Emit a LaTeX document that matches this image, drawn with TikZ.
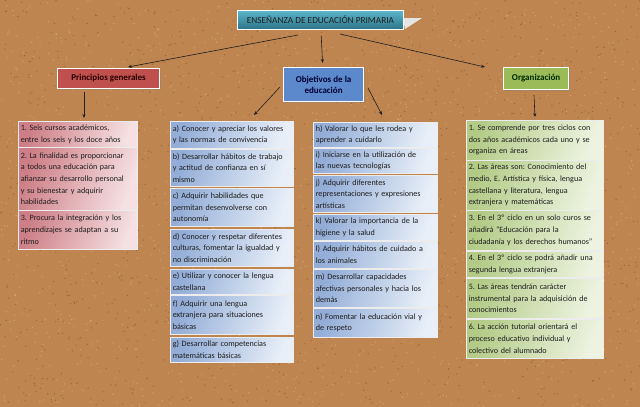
\documentclass[tikz,border=0pt]{standalone}
\usepackage{fontspec}
\setmainfont{Carlito}
\usetikzlibrary{arrows.meta,shadows,calc}
\definecolor{cork}{HTML}{BE8550}
\definecolor{corkD}{HTML}{7E4F26}
\definecolor{corkL}{HTML}{E4B985}
\definecolor{tealL}{HTML}{5DB6CB}
\definecolor{tealD}{HTML}{2B7386}
\definecolor{redH}{HTML}{C0504D}
\definecolor{blueH}{HTML}{5B89CC}
\definecolor{greenH}{HTML}{9BBB59}
\definecolor{pinkD}{HTML}{CD7E86}
\definecolor{pinkL}{HTML}{F5E0E2}
\definecolor{blueD}{HTML}{93ADD7}
\definecolor{blueL}{HTML}{E8EFF8}
\definecolor{greenD}{HTML}{B3CB87}
\definecolor{greenL}{HTML}{EDF3E0}
\definecolor{ink}{HTML}{1E1E1E}
\tikzset{
  lst/.style={rectangle, anchor=north west, draw=white!85!gray, line width=0.5pt,
    inner xsep=2.5pt, inner ysep=1pt, align=left, text=ink,
    font=\fontsize{8.1}{11.6}\selectfont,
    drop shadow={shadow xshift=1.2pt, shadow yshift=-1.2pt, opacity=0.45}},
  plst/.style={lst, text width=114pt, minimum width=119pt, left color=pinkD, right color=pinkL, shading angle=70},
  blst/.style={lst, text width=118pt, minimum width=123pt, left color=blueD, right color=blueL, shading angle=70},
  b2lst/.style={lst, text width=119pt, minimum width=124pt, left color=blueD, right color=blueL, shading angle=70},
  glst/.style={lst, text width=132pt, minimum width=137pt, left color=greenD, right color=greenL, shading angle=70},
  hdr/.style={rectangle, anchor=north west, draw=white, line width=1.2pt, align=center,
    font=\fontsize{9}{11}\selectfont\bfseries, inner sep=0pt,
    drop shadow={shadow xshift=1pt, shadow yshift=-1pt, opacity=0.4}},
  arr/.style={draw=ink, line width=0.6pt, -{Stealth[length=4pt,width=3.2pt]}},
}
\frenchspacing
\begin{document}
\begin{tikzpicture}[x=1pt,y=-1pt]
\useasboundingbox (0,0) rectangle (640,407);
\fill[cork] (0,0) rectangle (640,407);
\pgfmathsetseed{17}
\foreach \i in {1,...,1400}{
  \fill[corkD, opacity=0.55] (rand*320+320, rand*203.5+203.5) circle (0.7);
  \fill[corkL, opacity=0.55] (rand*320+320, rand*203.5+203.5) circle (0.7);
}
% title
\fill[white!80!gray] (403,18) -- (422,18) -- (405,29) -- cycle;
\node[hdr, minimum width=166pt, minimum height=19pt, top color=tealL, bottom color=tealD,
  font=\fontsize{9.3}{11}\selectfont, text=ink, line width=0.9pt] (title) at (237,10)
  {ENSEÑANZA DE EDUCACIÓN PRIMARIA};
% headers
\node[hdr, fill=redH, minimum width=102pt, minimum height=20pt, text=black!85!red] (pg) at (57,68) {Principios generales};
\node[hdr, fill=blueH, minimum width=80pt, minimum height=34pt, text=blue!20!black] (obj) at (283,67) {Objetivos de la\\ educación};
\node[hdr, fill=greenH, minimum width=65pt, minimum height=22pt, text=black!85!green] (org) at (503,67) {Organización};
% Principios list
\node[plst, minimum height=26pt] (p1) at (18,121) {1. Seis cursos académicos,\\ entre los seis y los doce años};
\node[plst, minimum height=63pt] (p2) at (18,147) {2. La finalidad es proporcionar\\ a todos una educación para\\ afianzar su desarrollo personal\\ y su bienestar y adquirir\\ habilidades};
\node[plst, minimum height=39pt] (p3) at (18,210) {3. Procura la integración y los\\ aprendizajes se adaptan a su\\ ritmo};
% Objetivos left
\node[blst, minimum height=27pt] (oa) at (170,121) {a) Conocer y apreciar los valores\\ y las normas de convivencia};
\node[blst, minimum height=37pt] (ob) at (170,149) {b) Desarrollar hábitos de trabajo\\ y actitud de confianza en sí\\ mismo};
\node[blst, minimum height=38pt] (oc) at (170,188) {c) Adquirir habilidades que\\ permitan desenvolverse con\\ autonomía};
\node[blst, minimum height=37pt] (od) at (170,229) {d) Conocer y respetar diferentes\\ culturas, fomentar la igualdad y\\ no discriminación};
\node[blst, minimum height=25pt] (oe) at (170,269) {e) Utilizar y conocer la lengua\\ castellana};
\node[blst, minimum height=39pt] (of) at (170,295) {f) Adquirir una lengua\\ extranjera para situaciones\\ básicas};
\node[blst, minimum height=25pt] (og) at (170,337) {g) Desarrollar competencias\\ matemáticas básicas};
% Objetivos right
\node[b2lst, minimum height=25pt] (oh) at (313,122) {h) Valorar lo que les rodea y\\ aprender a cuidarlo};
\node[b2lst, minimum height=25pt] (oi) at (313,148) {i) Iniciarse en la utilización de\\ las nuevas tecnologías};
\node[b2lst, minimum height=37pt] (oj) at (313,175) {j) Adquirir diferentes\\ representaciones y expresiones\\ artísticas};
\node[b2lst, minimum height=26pt] (ok) at (313,214) {k) Valorar la importancia de la\\ higiene y la salud};
\node[b2lst, minimum height=27pt] (ol) at (313,241) {l) Adquirir hábitos de cuidado a\\ los animales};
\node[b2lst, minimum height=38pt] (om) at (313,269) {m) Desarrollar capacidades\\ afectivas personales y hacia los\\ demás};
\node[b2lst, minimum height=29pt] (on) at (313,308) {n) Fomentar la educación vial y\\ de respeto};
% Organizacion list
\node[glst, minimum height=40pt] (g1) at (466,120) {1. Se comprende por tres ciclos con\\ dos años académicos cada uno y se\\ organiza en áreas};
\node[glst, minimum height=50pt] (g2) at (466,160) {2. Las áreas son: Conocimiento del\\ medio, E. Artística y física, lengua\\ castellana y literatura, lengua\\ extranjera y matemáticas};
\node[glst, minimum height=40pt] (g3) at (466,210) {3. En el 3º ciclo en un solo curos se\\ añadirá “Educación para la\\ ciudadanía y los derechos humanos”};
\node[glst, minimum height=26pt] (g4) at (466,251) {4. En el 3º ciclo se podrá añadir una\\ segunda lengua extranjera};
\node[glst, minimum height=40pt] (g5) at (466,278) {5. Las áreas tendrán carácter\\ instrumental para la adquisición de\\ conocimientos};
\node[glst, minimum height=39pt] (g6) at (466,319) {6. La acción tutorial orientará el\\ proceso educativo individual y\\ colectivo del alumnado};
% connector end points
\coordinate (tl) at (298,35);
\coordinate (tr) at (340,34);
\coordinate (pgin) at (128,67);
\coordinate (orgin) at (485,67);
\coordinate (pgout) at (84,92);
\coordinate (p1in) at (84,118);
\coordinate (objl) at (280,87);
\coordinate (oain) at (254,115);
\coordinate (objr) at (368,88);
\coordinate (ohin) at (382,115);
\coordinate (orgout) at (534,95);
\coordinate (g1in) at (535,117);
\draw[arr] (tl) -- (pgin);
\draw[arr] (tr) -- (orgin);
\draw[arr, shorten <=6pt, shorten >=4pt] (title) -- (obj);
\draw[arr] (pgout) -- (p1in);
\draw[arr] (objl) -- (oain);
\draw[arr] (objr) -- (ohin);
\draw[arr] (orgout) -- (g1in);
\end{tikzpicture}
\end{document}
